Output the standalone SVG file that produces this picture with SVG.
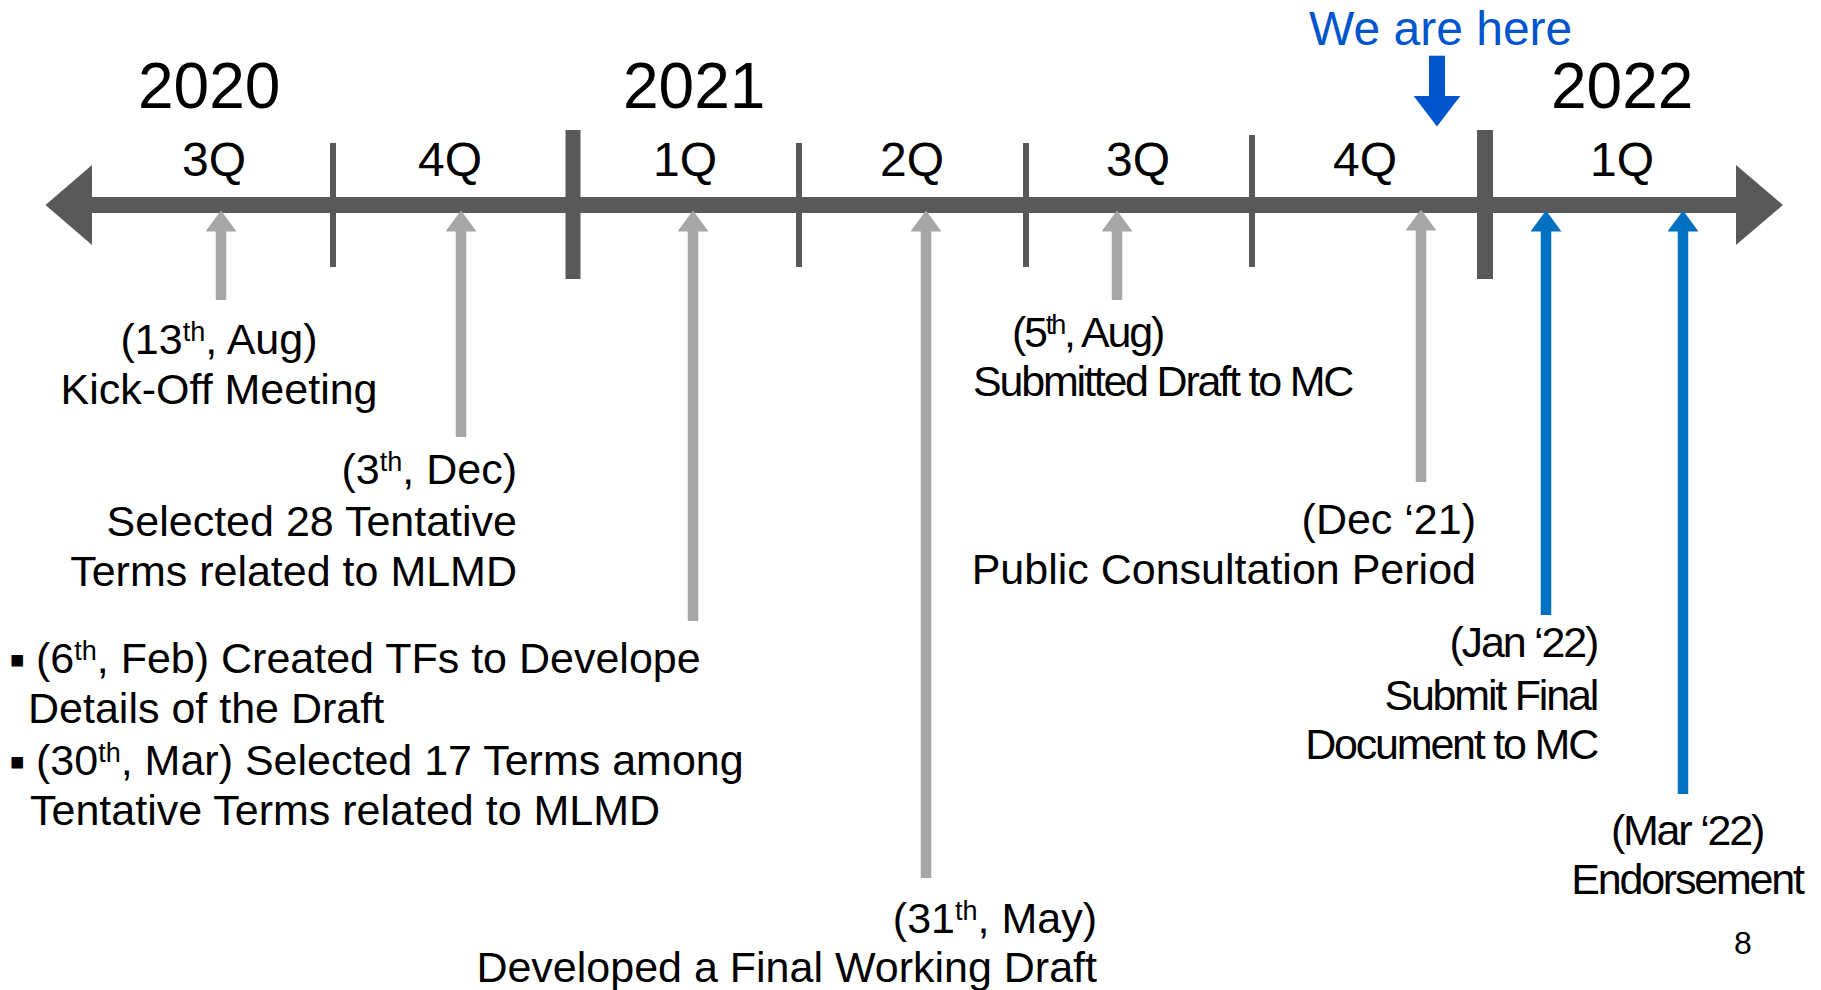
<svg xmlns="http://www.w3.org/2000/svg" width="1821" height="990" viewBox="0 0 1821 990">
<style>
text{font-family:"Liberation Sans",Arial,sans-serif;fill:#000}
.yr{font-size:64px}
.q{font-size:48px;text-anchor:middle}
.ev{font-size:43px}
.c{letter-spacing:-2.2px}
.sup{font-size:27px}
.mid{text-anchor:middle}
.end{text-anchor:end}
.ax{fill:#595959}
.ga{stroke:#A6A6A6;stroke-width:10.5;marker-end:url(#hg);fill:none}
.ba{stroke:#0070C0;stroke-width:10.5;marker-end:url(#hb);fill:none}
.bul{font-size:46px}
</style>
<defs>
<marker id="hg" markerUnits="userSpaceOnUse" viewBox="0 -15.5 21 31" refX="0.5" refY="0" markerWidth="21" markerHeight="31" orient="auto"><path d="M0,-15.5 L21,0 L0,15.5 z" fill="#A6A6A6"/></marker>
<marker id="hb" markerUnits="userSpaceOnUse" viewBox="0 -15.5 21 31" refX="0.5" refY="0" markerWidth="21" markerHeight="31" orient="auto"><path d="M0,-15.5 L21,0 L0,15.5 z" fill="#0070C0"/></marker>
<marker id="hh" markerUnits="userSpaceOnUse" viewBox="0 -23.7 31 47.4" refX="0.5" refY="0" markerWidth="31" markerHeight="47.4" orient="auto"><path d="M0,-23.7 L31,0 L0,23.7 z" fill="#0055CC"/></marker>
</defs>

<g id="timeline-axis">
<rect class="ax" x="91" y="197" width="1646" height="16"/>
<polygon class="ax" points="45.5,205 92,165 92,245"/>
<polygon class="ax" points="1736,165 1783,205 1736,245"/>
<rect class="ax" x="330" y="143" width="6" height="124"/>
<rect class="ax" x="565.5" y="130" width="15" height="149"/>
<rect class="ax" x="796" y="143" width="6" height="124"/>
<rect class="ax" x="1023" y="143" width="6" height="124"/>
<rect class="ax" x="1249" y="135" width="6" height="132"/>
<rect class="ax" x="1477" y="130" width="16" height="149"/>
</g>

<g id="years">
<text class="yr" x="138" y="108">2020</text>
<text class="yr" x="623" y="108">2021</text>
<text class="yr" x="1551" y="108">2022</text>
</g>

<g id="quarters">
<text class="q" x="214" y="176">3Q</text>
<text class="q" x="450" y="176">4Q</text>
<text class="q" x="685" y="176">1Q</text>
<text class="q" x="912" y="176">2Q</text>
<text class="q" x="1138" y="176">3Q</text>
<text class="q" x="1365" y="176">4Q</text>
<text class="q" x="1622" y="176">1Q</text>
</g>

<g id="we-are-here">
<text x="1309" y="45" style="font-size:48px;fill:#0055CC">We are here</text>
</g>

<g id="connectors">
<line class="ga" x1="221" y1="300" x2="221" y2="231"/>
<line class="ga" x1="461" y1="437" x2="461" y2="231"/>
<line class="ga" x1="693" y1="621" x2="693" y2="231"/>
<line class="ga" x1="926" y1="878" x2="926" y2="231"/>
<line class="ga" x1="1117" y1="300" x2="1117" y2="231"/>
<line class="ga" x1="1421" y1="482" x2="1421" y2="230"/>
<line class="ba" x1="1546" y1="615" x2="1546" y2="231"/>
<line class="ba" x1="1683" y1="794" x2="1683" y2="231"/>
<line x1="1437" y1="55.7" x2="1437" y2="96" style="stroke:#0055CC;stroke-width:16;marker-end:url(#hh)"/>
</g>

<g id="event-kickoff">
<text class="ev mid" x="219" y="354">(13<tspan class="sup" dy="-13">th</tspan><tspan dy="13">, Aug)</tspan></text>
<text class="ev mid" x="219" y="404">Kick-Off Meeting</text>
</g>

<g id="event-dec">
<text class="ev end" x="517" y="484">(3<tspan class="sup" dy="-13">th</tspan><tspan dy="13">, Dec)</tspan></text>
<text class="ev end" x="517" y="536">Selected 28 Tentative</text>
<text class="ev end" x="517" y="586">Terms related to MLMD</text>
</g>

<g id="event-feb-mar">
<text class="bul" x="9" y="675">▪</text>
<text class="ev" x="36" y="673">(6<tspan class="sup" dy="-13">th</tspan><tspan dy="13">, Feb) Created TFs to Develope</tspan></text>
<text class="ev" x="28" y="723">Details of the Draft</text>
<text class="bul" x="9" y="777">▪</text>
<text class="ev" x="36" y="775">(30<tspan class="sup" dy="-13">th</tspan><tspan dy="13">, Mar) Selected 17 Terms among</tspan></text>
<text class="ev" x="30" y="825">Tentative Terms related to MLMD</text>
</g>

<g id="event-may">
<text class="ev end" x="1097" y="933">(31<tspan class="sup" dy="-13">th</tspan><tspan dy="13">, May)</tspan></text>
<text class="ev end" x="1097" y="982">Developed a Final Working Draft</text>
</g>

<g id="event-aug">
<text class="ev c" x="1012" y="347">(5<tspan class="sup" dy="-13">th</tspan><tspan dy="13">, Aug)</tspan></text>
<text class="ev c" x="973" y="396">Submitted Draft to MC</text>
</g>

<g id="event-dec21">
<text class="ev end" x="1476" y="534">(Dec ‘21)</text>
<text class="ev end" x="1476" y="584">Public Consultation Period</text>
</g>

<g id="event-jan22">
<text class="ev end c" x="1597" y="657">(Jan ‘22)</text>
<text class="ev end c" x="1597" y="710">Submit Final</text>
<text class="ev end c" x="1597" y="759">Document to MC</text>
</g>

<g id="event-mar22">
<text class="ev mid c" x="1687" y="845">(Mar ‘22)</text>
<text class="ev mid c" x="1687" y="894">Endorsement</text>
</g>

<g id="page-number">
<text x="1743" y="954" style="font-size:32px;text-anchor:middle">8</text>
</g>
</svg>
